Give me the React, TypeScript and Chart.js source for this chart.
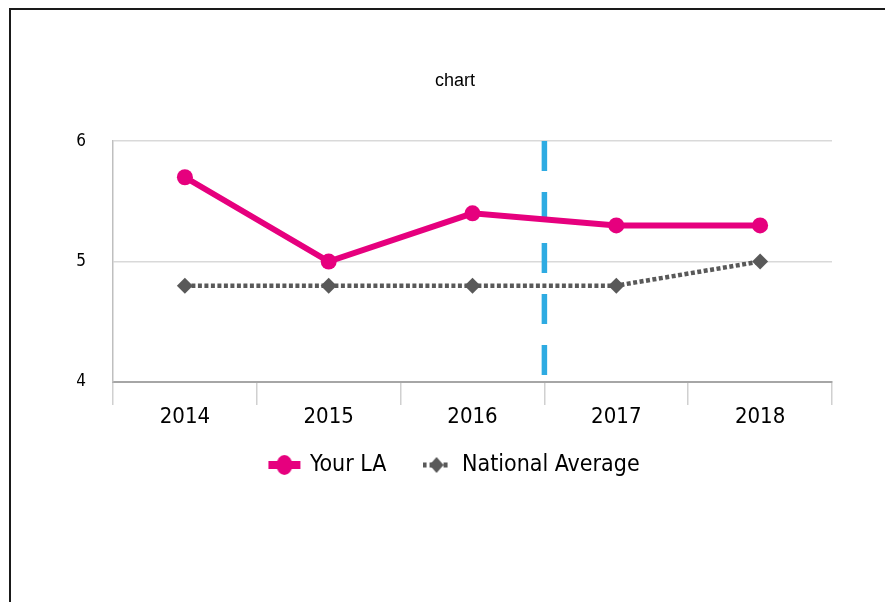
import React, { useEffect, useRef } from "react";
import { Chart, registerables } from "chart.js";

Chart.register(...registerables);

const categories = ["2014", "2015", "2016", "2017", "2018"];
const yourLA = [5.7, 5.0, 5.4, 5.3, 5.3];
const nationalAverage = [4.8, 4.8, 4.8, 4.8, 5.0];
const seriesNames = ["Your LA", "National Average"];
const yMin = 4;
const yMax = 6;
const yStep = 1;
const dividerAfter = "2016";
const chartTitle = "chart";

const PINK = "#E6007E";
const GREY = "#595959";
const BLUE = "#2EABE2";
const NARROW = "'Liberation Sans Narrow', 'Arial Narrow', 'DejaVu Sans Condensed', sans-serif";

function makePinkSymbol(): HTMLCanvasElement {
  const c = document.createElement("canvas");
  c.width = 34;
  c.height = 22;
  const g = c.getContext("2d")!;
  g.strokeStyle = PINK;
  g.lineWidth = 8;
  g.beginPath();
  g.moveTo(1, 11);
  g.lineTo(33, 11);
  g.stroke();
  g.fillStyle = PINK;
  g.beginPath();
  g.ellipse(17, 11, 8, 10, 0, 0, Math.PI * 2);
  g.fill();
  return c;
}

function makeGreySymbol(): HTMLCanvasElement {
  const c = document.createElement("canvas");
  c.width = 28;
  c.height = 20;
  const g = c.getContext("2d")!;
  g.strokeStyle = GREY;
  g.lineWidth = 5;
  g.setLineDash([4, 3]);
  g.beginPath();
  g.moveTo(0, 10);
  g.lineTo(28, 10);
  g.stroke();
  g.setLineDash([]);
  g.fillStyle = GREY;
  g.beginPath();
  g.moveTo(14, 2);
  g.lineTo(21, 10);
  g.lineTo(14, 18);
  g.lineTo(7, 10);
  g.closePath();
  g.fill();
  return c;
}

const dividerPlugin = {
  id: "dividerLine",
  beforeDatasetsDraw(chart: any) {
    const x = chart.scales.x;
    const idx = categories.indexOf(dividerAfter);
    if (idx < 0 || idx + 1 >= categories.length) return;
    const px = (x.getPixelForValue(idx) + x.getPixelForValue(idx + 1)) / 2;
    const { top, bottom } = chart.chartArea;
    const ctx = chart.ctx;
    ctx.save();
    ctx.strokeStyle = BLUE;
    ctx.lineWidth = 5.5;
    ctx.setLineDash([30, 21]);
    ctx.beginPath();
    ctx.moveTo(px, top);
    ctx.lineTo(px, bottom);
    ctx.stroke();
    ctx.restore();
  },
};

const noLabelClip = (s: any) => {
  s._computeLabelArea = () => undefined;
};

export default function App() {
  const ref = useRef<HTMLCanvasElement | null>(null);

  useEffect(() => {
    if (!ref.current) return;
    const symbols = [makePinkSymbol(), makeGreySymbol()];
    const chart = new Chart(ref.current, {
      type: "line",
      data: {
        labels: categories,
        datasets: [
          {
            label: seriesNames[0],
            data: yourLA,
            borderColor: PINK,
            backgroundColor: PINK,
            borderWidth: 6,
            pointRadius: 8,
            pointHoverRadius: 8,
            pointBorderWidth: 0,
            pointBackgroundColor: PINK,
            tension: 0,
            order: 0,
          },
          {
            label: seriesNames[1],
            data: nationalAverage,
            borderColor: GREY,
            backgroundColor: GREY,
            borderWidth: 4.5,
            borderDash: [4, 2.5],
            pointStyle: "rectRot",
            pointRadius: 8,
            pointHoverRadius: 8,
            pointBorderWidth: 0,
            pointBackgroundColor: GREY,
            tension: 0,
            order: 1,
          },
        ],
      },
      options: {
        responsive: false,
        animation: false,
        events: [],
        layout: { padding: { left: 67, right: 53, top: 0, bottom: 115.5 } },
        plugins: {
          tooltip: { enabled: false },
          title: {
            display: true,
            text: chartTitle,
            color: "#000",
            font: { family: "'Liberation Sans', Arial, sans-serif", size: 18, weight: "normal", lineHeight: 1.2 },
            padding: { top: 60, bottom: 49.5 },
          },
          legend: {
            display: true,
            position: "bottom",
            labels: {
              usePointStyle: true,
              pointStyleWidth: 28,
              padding: 36,
              color: "#000",
              font: { family: NARROW, size: 23 },
              generateLabels: (c: any) =>
                c.data.datasets.map((d: any, i: number) => ({
                  text: d.label,
                  pointStyle: symbols[i],
                  fillStyle: "transparent",
                  strokeStyle: "transparent",
                  lineWidth: 0,
                  hidden: false,
                  datasetIndex: i,
                  fontColor: "#000",
                })),
            },
          },
        },
        scales: {
          x: {
            type: "category",
            offset: true,
            afterFit: (s: any) => {
              s.height = 35.5;
              noLabelClip(s);
            },
            grid: {
              offset: true,
              drawOnChartArea: false,
              drawTicks: true,
              tickLength: 23,
              color: "#d0d0d0",
              lineWidth: 1.5,
            },
            border: { display: true, color: "#a6a6a6", width: 2 },
            ticks: {
              color: "#000",
              padding: 1,
              maxRotation: 0,
              font: { family: NARROW, size: 22, lineHeight: 1 },
            },
          },
          y: {
            min: yMin,
            max: yMax,
            afterFit: (s: any) => {
              s.width = 35;
              noLabelClip(s);
            },
            ticks: {
              stepSize: yStep,
              color: "#000",
              padding: 27,
              font: { family: NARROW, size: 17 },
            },
            grid: {
              drawTicks: false,
              color: (ctx: any) => (ctx.tick && ctx.tick.value === yMin ? "#a6a6a6" : "#d9d9d9"),
              lineWidth: 1.5,
            },
            border: { display: true, color: "#bfbfbf", width: 1.5 },
          },
        },
      },
      plugins: [dividerPlugin],
    });
    return () => chart.destroy();
  }, []);

  return (
    <div
      style={{
        position: "fixed",
        left: 9,
        top: 8,
        width: 876,
        height: 594,
        borderTop: "2px solid #1a1a1a",
        borderLeft: "2px solid #1a1a1a",
        overflow: "hidden",
        background: "#fff",
      }}
    >
      <canvas ref={ref} width={874} height={592} style={{ display: "block" }} />
    </div>
  );
}
